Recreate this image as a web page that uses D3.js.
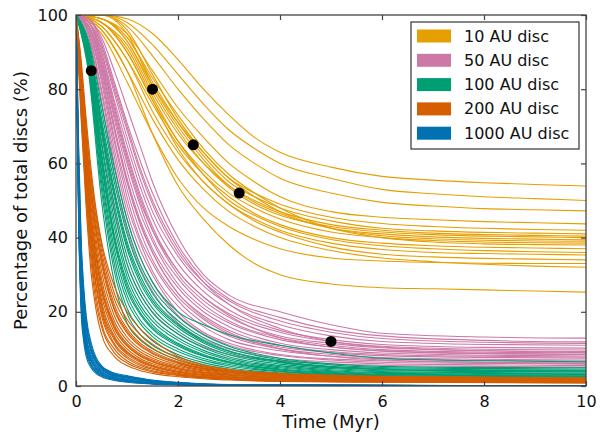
<!DOCTYPE html>
<html><head><meta charset="utf-8">
<script src="https://cdn.jsdelivr.net/npm/d3@7"></script>
<style>body{margin:0;background:#fff}svg{display:block}text{font-family:"DejaVu Sans",sans-serif;fill:#111}</style>
</head><body><svg id="c" width="608" height="437"></svg>
<script>
// ---- data ----
const seriesNames = ["10 AU disc","50 AU disc","100 AU disc","200 AU disc","1000 AU disc"];
const seriesColors = ["#E69F00","#CC79A7","#009E73","#D55E00","#0072B2"];
const xTicks = [0,2,4,6,8,10];
const yTicks = [0,20,40,60,80,100];

const t10 = [0,0.5,1,1.5,2,2.5,3,3.5,4,5,6,7,8,9,10];
const au10 = [
 [100,100,99,95,88,80,73,67,63,59,56.5,55.5,54.8,54.3,53.9],
 [100,100,98,92,84,76,69,64,60,56,53,51.8,51,50.5,50],
 [100,100,97,89,80,72,65,60,56,52,49.5,48.5,47.8,47.5,47.2],
 [100,99,95,85,75,67,60,55,51,47,45.5,44.8,44.3,44,43.7],
 [100,100,96,84,72,63,56,52,49,45.5,43.8,43,42.5,42.2,42],
 [100,99,94,82,71,62,55,51,48,44.5,42.5,41.8,41.4,41.2,41],
 [100,100,95,81,70,61,54,50,47,43.5,42,41.2,40.8,40.6,40.4],
 [100,99,93,80,69,60,53.5,49,46,43,41.5,40.8,40.4,40.2,40],
 [100,98,92,79,68,60,54,49.5,46.5,42.5,41,40.2,39.8,39.6,39.4],
 [100,99,93,81,71,63,56,51,47,42.5,40.5,39.7,39.3,39.1,39],
 [100,98,90,77,66,58,52,48,45,41.5,40,39.2,38.8,38.6,38.5],
 [100,99,94,83,73,64,57,52,48,42.5,40,38.8,38.3,38.1,38],
 [100,97,88,76,65,57,51,46.5,43.5,40,38.5,37.8,37.4,37.2,37],
 [100,98,91,78,66,57,50,46,43,39.5,37.8,37,36.5,36.2,36],
 [100,97,88,74,63,55,49,45,42,38.5,36.8,36,35.7,35.5,35.3],
 [100,98,90,77,64,55,49,44.5,41.5,37.5,35.5,34.8,34.4,34.2,34],
 [100,96,85,72,61,53,47,43,40,36.5,34.5,33.5,32.8,32.3,32],
 [100,95,82,68,56,48,43,39.5,37,34.5,33.7,33.3,33.1,33,33],
 [100,96,85,68,54,45,38,33,30,27.5,26.5,26.2,25.9,25.6,25.3]
];

const t50 = [0,0.25,0.5,0.75,1,1.25,1.5,2,2.5,3,4,5,6,8,10];
const au50 = [
 [100,92,70,48,33,25,20,14,10.5,8.5,6.8,6,5.6,5.3,5.1],
 [100,94,77,57,42,32,25.5,17,12.5,10,7.5,6.5,6,5.7,5.5],
 [100,95,79,60,45,35,28,19,14,11,8.2,7,6.4,6.1,5.9],
 [100,95,80,62,47,37,30,20,14.5,11.5,8.5,7.3,6.8,6.4,6.2],
 [100,96,82,64,49,39,31,21.5,16,12.5,9.5,8,7.3,6.9,6.7],
 [100,96,83,66,51,40,33,23,17,13.5,10,8.5,7.7,7.2,7],
 [100,96,84,67,53,42,34,24,18,14,10.5,9,8.2,7.7,7.5],
 [100,97,85,69,55,44,36,25,19,15,11,9.3,8.5,8,7.8],
 [100,97,86,70,56,45,37,26.5,20,16,11.5,9.8,8.9,8.3,8.1],
 [100,97,87,72,58,47,39,27.5,21,17,12.5,10.5,9.4,8.7,8.5],
 [100,97,88,73,60,49,40,29,22,17.5,13,11,9.8,9.1,8.9],
 [100,98,89,75,62,51,42,30,23,18.5,13.5,11.5,10.3,9.5,9.3],
 [100,98,90,76,63,52,43,31,24,19.5,14.5,12,10.7,9.9,9.7],
 [100,98,90,77,65,54,45,33,25.5,20.5,15,12.5,11.2,10.4,10.2],
 [100,98,91,79,67,56,47,35,27,22,16.5,13.5,12,11.2,11],
 [100,98,92,80,69,58,49,36,28,23,17.5,14.5,12.8,11.8,11.5],
 [100,99,93,82,71,61,52,38,29,23.5,18.5,15.2,13.5,12.3,11.9],
 [100,99,94,85,75,65,55,40,30,24.5,20,16.5,14.2,13.2,12.9],
 [100,98,88,74,61,50,42,31,24,19,13,10.5,9.5,8.8,8.5],
 [100,97,86,70,55,44,36,25,18.5,14.5,10,8,7,6.4,6],
 [100,99,92,81,70,59,50,37,28,22,15.5,12,10.5,9.5,9]
];

const t100 = [0,0.25,0.5,0.75,1,1.25,1.5,2,2.5,3,4,5,6,8,10];
const au100 = [
 [100,84,50,28,17,12.5,10,7,5.2,4,2.9,2.3,2,1.8,1.7],
 [100,85,53,31,19.5,14,11,7.8,5.8,4.5,3.2,2.5,2.2,2,1.9],
 [100,86,55,33,21,15.5,12.2,8.5,6.3,4.9,3.5,2.8,2.4,2.2,2.1],
 [100,87,57,35,23,17,13.3,9.3,6.9,5.4,3.8,3,2.6,2.4,2.3],
 [100,87,58,37,24.5,18,14.2,10,7.4,5.8,4,3.2,2.8,2.6,2.5],
 [100,88,60,39,26,19.5,15.3,10.8,8,6.2,4.3,3.4,3,2.8,2.7],
 [100,88,62,41,28,21,16.5,11.5,8.5,6.6,4.6,3.7,3.2,3,2.9],
 [100,89,63,43,29.5,22,17.5,12.3,9.1,7,4.9,3.9,3.4,3.2,3.1],
 [100,89,65,45,31,23.5,18.5,13,9.6,7.4,5.2,4.1,3.6,3.4,3.3],
 [100,90,66,47,33,25,19.8,14,10.3,7.9,5.5,4.4,3.9,3.6,3.5],
 [100,90,68,49,35,26.5,21,14.8,10.9,8.4,5.9,4.7,4.1,3.9,3.8],
 [100,91,69,51,37,28,22.3,15.7,11.6,8.9,6.3,5,4.4,4.1,4],
 [100,91,71,53,39,30,23.8,16.7,12.3,9.5,6.7,5.3,4.7,4.4,4.3],
 [100,92,72,55,41,31.5,25,17.6,13,10.1,7.1,5.7,5,4.7,4.6],
 [100,92,74,57,43,33,26.5,18.7,13.8,10.7,7.5,6,5.3,5,4.9],
 [100,93,76,59,45,35,28,20,16.5,13.8,11,8.9,7.5,6.8,6.5],
 [100,91,70,52,38,29,23,16.3,12,9.3,6.5,5.1,4.5,4.2,4.1],
 [100,88,61,40,27,20,15.8,11.2,8.2,6.4,4.4,3.5,3.1,2.9,2.6]
];

const t200 = [0,0.1,0.2,0.3,0.4,0.5,0.75,1,1.25,1.5,2,3,4,6,10];
const au200 = [
 [100,72,48,30,20,14,8,5.5,4.2,3.4,2.5,1.6,1.2,1,0.8],
 [100,74,50,33,22,16,9,6.2,4.7,3.8,2.8,1.8,1.3,1.1,0.9],
 [100,75,52,35,24,17,10,6.8,5.1,4.1,3,1.9,1.4,1.1,0.9],
 [100,76,54,37,26,19,11,7.5,5.6,4.5,3.2,2,1.5,1.2,1],
 [100,77,55,38,27,20,11.5,8,6,4.8,3.4,2.1,1.6,1.3,1.1],
 [100,78,56,40,29,21,12.5,8.6,6.5,5.2,3.7,2.3,1.7,1.4,1.2],
 [100,79,58,42,31,23,13.5,9.3,7,5.6,4,2.5,1.9,1.5,1.3],
 [100,80,59,43,32,24.5,14.5,10,7.5,6,4.3,2.7,2,1.6,1.4],
 [100,81,61,45,34,26,15.5,10.8,8.1,6.5,4.6,2.9,2.2,1.7,1.5],
 [100,82,62,46,35.5,27.5,16.5,11.5,8.7,7,5,3.1,2.3,1.8,1.6],
 [100,83,63,48,37,29,17.5,12.3,9.3,7.5,5.3,3.3,2.5,1.9,1.7],
 [100,84,65,50,39,31,19,13.2,10,8.1,5.7,3.5,2.6,2,1.8],
 [100,84,66,51,41,33,20.5,14.3,10.8,8.7,6.1,3.7,2.8,2.2,1.9],
 [100,85,67,53,43,35,22,15.5,11.7,9.4,6.5,3.9,3,2.3,2],
 [100,86,69,55,44.5,36.5,23.5,16.8,12.8,10.2,7,4.1,3.1,2.4,2.1],
 [100,87,70,56,46,38,25,18,14,11.3,7.5,4.3,3.3,2.5,2.1],
 [100,88,72,58,47,39,27,20,15.5,12.5,8,4.5,3.4,2.6,2.2],
 [100,79,57,41,30,22,13,9,6.8,5.4,3.8,2.4,1.8,1.4,1.2],
 [100,82,61,45,34,26.5,16,11,8.3,6.7,4.7,3,2.2,1.7,1.5],
 [100,85,66,52,41.5,34,21,14.8,11.2,9,6.3,3.8,2.9,2.2,2]
];

const t1000 = [0,0.02,0.05,0.1,0.15,0.2,0.3,0.4,0.5,0.75,1,1.5,2,3,10];
const au1000 = [
 [100,75,45,20,12,8,4.8,3.3,2.5,1.5,1,0.5,0.3,0.1,0],
 [100,77,47,22,13.5,9,5.3,3.7,2.8,1.7,1.2,0.6,0.35,0.1,0],
 [100,78,49,24,15,10,5.9,4.1,3.1,1.9,1.4,0.7,0.4,0.15,0],
 [100,79,51,26,16.5,11,6.5,4.5,3.4,2.1,1.5,0.8,0.5,0.15,0],
 [100,80,53,28,18,12,7,4.8,3.7,2.3,1.7,0.9,0.55,0.2,0],
 [100,81,55,30,19.5,13,7.6,5.2,4,2.5,1.9,1,0.6,0.2,0],
 [100,82,57,32,21,14,8.2,5.6,4.3,2.7,2.1,1.1,0.7,0.25,0],
 [100,83,59,34,22.5,15.5,9,6.1,4.6,2.9,2.3,1.2,0.75,0.3,0],
 [100,85,61,36,24,16.5,9.8,6.6,5,3.1,2.5,1.4,0.85,0.3,0],
 [100,86,63,38,25.5,17.8,10.6,7,5.2,3.3,2.6,1.5,0.9,0.35,0],
 [100,88,66,40,27,19,11.5,7.5,5.5,3.5,2.8,1.6,1,0.4,0],
 [100,80,52,27,17,11.5,6.8,4.7,3.6,2.2,1.6,0.85,0.5,0.2,0],
 [100,84,60,35,23,16,9.4,6.3,4.8,3,2.4,1.3,0.8,0.3,0],
 [100,78,48,23,14,9.5,5.6,3.9,3,1.8,1.3,0.65,0.4,0.1,0]
];

const dotsX = [0.3,1.5,2.3,3.2,5];
const dotsY = [85,80,65,52,12];

// ---- layout ----
const svg = d3.select("#c");
const L=76, R=586, T=15, B=386;
const x = d3.scaleLinear().domain([0,10]).range([L,R]);
const y = d3.scaleLinear().domain([0,100]).range([B,T]);

svg.append("clipPath").attr("id","clip").append("rect")
  .attr("x",L).attr("y",T).attr("width",R-L).attr("height",B-T);

const groups = [[t10,au10],[t50,au50],[t100,au100],[t200,au200],[t1000,au1000]];
const line = d3.line().curve(d3.curveMonotoneX);
const plot = svg.append("g").attr("clip-path","url(#clip)");
groups.forEach(([ts,curves],si)=>{
  curves.forEach(vals=>{
    plot.append("path")
      .attr("d", line(vals.map((v,i)=>[x(ts[i]),y(v)])))
      .attr("fill","none").attr("stroke",seriesColors[si])
      .attr("stroke-width",1.1);
  });
});
plot.selectAll("circle.dot").data(dotsX).enter().append("circle")
  .attr("cx",(d)=>x(d)).attr("cy",(d,i)=>y(dotsY[i])).attr("r",5.5).attr("fill","#000");

// frame
svg.append("rect").attr("x",L).attr("y",T).attr("width",R-L).attr("height",B-T)
  .attr("fill","none").attr("stroke","#444").attr("stroke-width",1.3);

// axes (ticks inward)
const ax = d3.axisBottom(x).tickValues(xTicks).tickSize(-5).tickPadding(10).tickFormat(d3.format("d"));
const gx = svg.append("g").attr("transform",`translate(0,${B})`).call(ax);
const ay = d3.axisLeft(y).tickValues(yTicks).tickSize(-5).tickPadding(8).tickFormat(d3.format("d"));
const gy = svg.append("g").attr("transform",`translate(${L},0)`).call(ay);
const axTop = d3.axisTop(x).tickValues(xTicks).tickSize(-5).tickFormat("");
const gt = svg.append("g").attr("transform",`translate(0,${T})`).call(axTop);
const ayR = d3.axisRight(y).tickValues(yTicks).tickSize(-5).tickFormat("");
const gr = svg.append("g").attr("transform",`translate(${R},0)`).call(ayR);
[gx,gy,gt,gr].forEach(g=>{
  g.select(".domain").remove();
  g.selectAll(".tick line").attr("stroke","#444").attr("stroke-width",1.2);
  g.selectAll("text").attr("font-size",16).attr("fill","#111").attr("font-family","DejaVu Sans");
});

// titles
svg.append("text").attr("x",(L+R)/2).attr("y",428).attr("text-anchor","middle")
  .attr("font-size",18).text("Time (Myr)");
svg.append("text").attr("transform",`translate(27,${(T+B)/2}) rotate(-90)`)
  .attr("text-anchor","middle").attr("font-size",18).text("Percentage of total discs (%)");

// legend
const lg = svg.append("g");
lg.append("rect").attr("x",411).attr("y",22).attr("width",168).attr("height",127)
  .attr("fill","#fff").attr("stroke","#333").attr("stroke-width",1.2);
seriesNames.forEach((n,i)=>{
  const cy = 36 + i*24.3;
  lg.append("rect").attr("x",417).attr("y",cy-6.5).attr("width",34).attr("height",13).attr("fill",seriesColors[i]);
  lg.append("text").attr("x",464).attr("y",cy+5.5).attr("font-size",16).text(n);
});
</script></body></html>
